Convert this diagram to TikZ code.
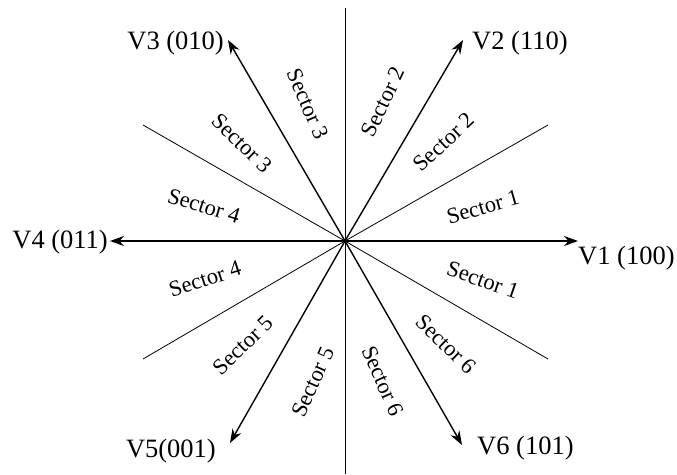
\documentclass[tikz,border=0pt]{standalone}
\usepackage{fontspec}
\setmainfont{Liberation Serif}
\usetikzlibrary{arrows.meta}
\begin{document}
\begin{tikzpicture}[x=1pt,y=-1pt,
  vec/.style={line width=1.4pt,-{Stealth[length=14pt,width=10pt]}},
  sline/.style={line width=0.8pt},
  vlab/.style={inner sep=0pt,font=\fontsize{26.5}{31}\selectfont},
  slab/.style={inner sep=0pt,font=\fontsize{22.5}{27}\selectfont}]
\useasboundingbox (0,0) rectangle (677,474);
\coordinate (O) at (345,241);
\coordinate (top) at (345,8);
\coordinate (bot) at (345,474);
\coordinate (t1) at (578,241);
\coordinate (t2) at (463,40);
\coordinate (t3) at (228,40);
\coordinate (t4) at (110,241);
\coordinate (t5) at (230,443);
\coordinate (t6) at (462,445);
\coordinate (s30) at (548,125);
\coordinate (s150) at (143,125);
\coordinate (s210) at (143,359);
\coordinate (s330) at (548,359);
% lines
\draw[sline] (top) -- (bot);
\draw[sline] (O) -- (s30);
\draw[sline] (O) -- (s150);
\draw[sline] (O) -- (s210);
\draw[sline] (O) -- (s330);
% vectors
\draw[vec] (O) -- (t1);
\draw[vec] (O) -- (t2);
\draw[vec] (O) -- (t3);
\draw[vec] (O) -- (t4);
\draw[vec] (O) -- (t5);
\draw[vec] (O) -- (t6);
% vector labels
\node[vlab,anchor=west] (l1) at (578,258) {V1 (100)};
\node[vlab,anchor=west] (l2) at (472,43) {V2 (110)};
\node[vlab,anchor=east] (l3) at (224,43) {V3 (010)};
\node[vlab,anchor=east] (l4) at (108,242) {V4 (011)};
\node[vlab,anchor=east] (l5) at (216,451) {V5(001)};
\node[vlab,anchor=west] (l6) at (477,448) {V6 (101)};
% sector labels
\node[slab,rotate=65] (a2) at (383,102) {Sector 2};
\node[slab,rotate=43] (b2) at (444,142) {Sector 2};
\node[slab,rotate=16] (a1) at (483,207) {Sector 1};
\node[slab,rotate=-19] (b1) at (483,280) {Sector 1};
\node[slab,rotate=-44] (a6) at (446,344) {Sector 6};
\node[slab,rotate=-66] (b6) at (383,381) {Sector 6};
\node[slab,rotate=66] (a5) at (313,382) {Sector 5};
\node[slab,rotate=44] (b5) at (243,345) {Sector 5};
\node[slab,rotate=18] (a4) at (205,279) {Sector 4};
\node[slab,rotate=-17] (b4) at (204,206) {Sector 4};
\node[slab,rotate=-44] (a3) at (242,143) {Sector 3};
\node[slab,rotate=-67] (b3) at (308,104) {Sector 3};
\end{tikzpicture}
\end{document}
